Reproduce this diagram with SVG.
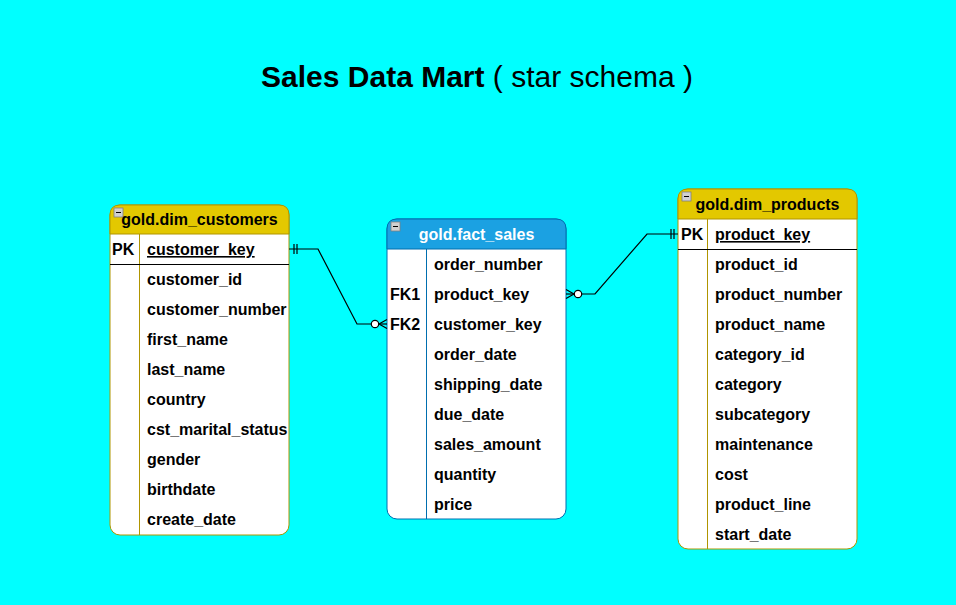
<svg xmlns="http://www.w3.org/2000/svg" width="956" height="605" viewBox="0 0 956 605">
<defs>
<style>
text{font-family:"Liberation Sans",Arial,sans-serif;}
.row{font-size:16px;font-weight:bold;fill:#000;}
.hdr{font-size:16px;font-weight:bold;text-anchor:middle;}
.title{font-size:30px;text-anchor:middle;fill:#000;}
.conn{fill:none;stroke:#000;stroke-width:1.2;}
.dimb{stroke:#B09500;}
.factb{stroke:#006EAF;}
.sep{stroke:#000;stroke-width:1.2;}
.icon{fill:#D0D0D0;stroke:#808080;stroke-width:0.8;}
</style>
</defs>
<rect x="0" y="0" width="956" height="605" fill="#00FFFF"/>
<text class="title" x="477" y="87"><tspan font-weight="bold">Sales Data Mart</tspan> ( star schema )</text>

<g id="dim_customers">
<rect x="110" y="205" width="179" height="330" rx="10" fill="#FFFFFF" class="dimb"/>
<path d="M110,234 V215 Q110,205 120,205 H279 Q289,205 289,215 V234 Z" fill="#E3C800" class="dimb"/>
<line x1="139.5" y1="234" x2="139.5" y2="535" class="dimb"/>
<line x1="110" y1="264.5" x2="289" y2="264.5" class="sep"/>
<rect x="114" y="208" width="9" height="9" class="icon"/>
<line x1="116" y1="212.5" x2="121" y2="212.5" stroke="#000" stroke-width="1"/>
<text class="hdr" x="199.5" y="225" fill="#000">gold.dim_customers</text>
<text class="row" x="112" y="255">PK</text>
<text class="row" x="147" y="255" text-decoration="underline">customer_key</text>
<text class="row" x="147" y="285">customer_id</text>
<text class="row" x="147" y="315">customer_number</text>
<text class="row" x="147" y="345">first_name</text>
<text class="row" x="147" y="375">last_name</text>
<text class="row" x="147" y="405">country</text>
<text class="row" x="147" y="435">cst_marital_status</text>
<text class="row" x="147" y="465">gender</text>
<text class="row" x="147" y="495">birthdate</text>
<text class="row" x="147" y="525">create_date</text>
</g>

<g id="fact_sales">
<rect x="387" y="219" width="179" height="300" rx="10" fill="#FFFFFF" class="factb"/>
<path d="M387,249 V229 Q387,219 397,219 H556 Q566,219 566,229 V249 Z" fill="#1BA1E2" class="factb"/>
<line x1="426.5" y1="249" x2="426.5" y2="519" class="factb"/>
<rect x="391" y="222" width="9" height="9" class="icon"/>
<line x1="393" y1="226.5" x2="398" y2="226.5" stroke="#000" stroke-width="1"/>
<text class="hdr" x="476.5" y="240" fill="#FFFFFF">gold.fact_sales</text>
<text class="row" x="434" y="270">order_number</text>
<text class="row" x="390" y="300">FK1</text>
<text class="row" x="434" y="300">product_key</text>
<text class="row" x="390" y="330">FK2</text>
<text class="row" x="434" y="330">customer_key</text>
<text class="row" x="434" y="360">order_date</text>
<text class="row" x="434" y="390">shipping_date</text>
<text class="row" x="434" y="420">due_date</text>
<text class="row" x="434" y="450">sales_amount</text>
<text class="row" x="434" y="480">quantity</text>
<text class="row" x="434" y="510">price</text>
</g>

<g id="dim_products">
<rect x="678" y="189" width="179" height="360" rx="10" fill="#FFFFFF" class="dimb"/>
<path d="M678,219 V199 Q678,189 688,189 H847 Q857,189 857,199 V219 Z" fill="#E3C800" class="dimb"/>
<line x1="707.5" y1="219" x2="707.5" y2="549" class="dimb"/>
<line x1="678" y1="249.5" x2="857" y2="249.5" class="sep"/>
<rect x="682" y="192" width="9" height="9" class="icon"/>
<line x1="684" y1="196.5" x2="689" y2="196.5" stroke="#000" stroke-width="1"/>
<text class="hdr" x="767.5" y="210" fill="#000">gold.dim_products</text>
<text class="row" x="681" y="240">PK</text>
<text class="row" x="715" y="240" text-decoration="underline">product_key</text>
<text class="row" x="715" y="270">product_id</text>
<text class="row" x="715" y="300">product_number</text>
<text class="row" x="715" y="330">product_name</text>
<text class="row" x="715" y="360">category_id</text>
<text class="row" x="715" y="390">category</text>
<text class="row" x="715" y="420">subcategory</text>
<text class="row" x="715" y="450">maintenance</text>
<text class="row" x="715" y="480">cost</text>
<text class="row" x="715" y="510">product_line</text>
<text class="row" x="715" y="540">start_date</text>
</g>

<g id="connectors">
<polyline class="conn" points="289,249 318,249 357,324 371,324"/>
<line class="conn" x1="294" y1="244" x2="294" y2="254"/>
<line class="conn" x1="297" y1="244" x2="297" y2="254"/>
<circle cx="375" cy="324" r="3.7" fill="#FFFFFF" stroke="#000" stroke-width="1.2"/>
<polyline class="conn" points="387,319.5 379,324 387,328.5"/>
<line class="conn" x1="379" y1="324" x2="387" y2="324"/>

<polyline class="conn" points="582,294 595,294 647,234 678,234"/>
<line class="conn" x1="671" y1="229" x2="671" y2="239"/>
<line class="conn" x1="674" y1="229" x2="674" y2="239"/>
<circle cx="578" cy="294" r="3.7" fill="#FFFFFF" stroke="#000" stroke-width="1.2"/>
<polyline class="conn" points="566,289.5 574,294 566,298.5"/>
<line class="conn" x1="566" y1="294" x2="574" y2="294"/>
</g>
</svg>
